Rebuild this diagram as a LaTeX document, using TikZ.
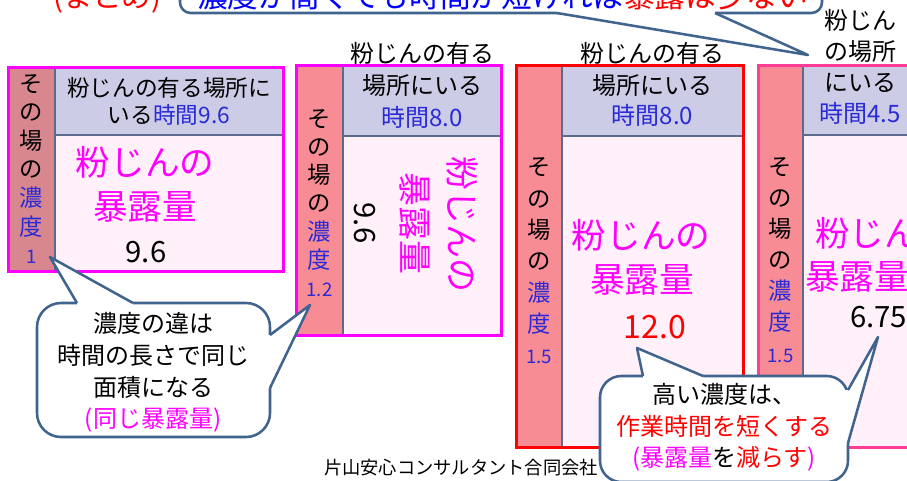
\documentclass[tikz,border=0pt]{standalone}
\usepackage{fontspec}
\setmainfont{Noto Sans CJK JP}
\usetikzlibrary{positioning}

\definecolor{mag}{HTML}{FF00FF}
\definecolor{hotpink}{HTML}{FF3C96}
\definecolor{headc}{HTML}{CCCCE6}
\definecolor{bodyc}{HTML}{FFF0FA}
\definecolor{colA}{HTML}{D8878F}
\definecolor{colB}{HTML}{F78C95}
\definecolor{rulec}{HTML}{5B6B8C}
\definecolor{calloutc}{HTML}{41648F}
\definecolor{dblue}{HTML}{2A2AD6}
\definecolor{tblue}{HTML}{0000FF}

\begin{document}
\begin{tikzpicture}[x=0.75pt, y=-0.75pt, inner sep=0pt,
    sepline/.style={rulec, line width=1.5pt},
    frame/.style={line width=2.25pt},
    balloon/.style={calloutc, line width=1.9pt, line join=round},
    coltext/.style={align=center, font=\fontsize{17.5}{21.4}\selectfont},
    headtext/.style={align=center, font=\fontsize{17.5}{20}\selectfont},
    bigtext/.style={mag, font=\fontsize{26}{30}\selectfont},
    numtext/.style={font=\fontsize{22}{26}\selectfont},
    notetext/.style={align=center, font=\fontsize{18}{23.7}\selectfont}]

    \useasboundingbox (0,0) rectangle (907,480);
    \clip (0,0) rectangle (907,480);

    % box 1 : concentration 1
    \fill[colA] (8,67) rectangle (55,271);
    \fill[headc] (55,67) rectangle (283,135);
    \fill[bodyc] (55,135) rectangle (283,271);
    \draw[sepline] (55,67) -- (55,271) (55,135) -- (283,135);
    \draw[frame, mag] (8,67) rectangle (283,271);

    \node[coltext] (col1) at (31.5,169) {そ\\の\\場\\の\\\textcolor{dblue}{濃}\\\textcolor{dblue}{度}\\\textcolor{dblue}{\fontsize{14}{16}\selectfont 1}};
    \node[headtext, font=\fontsize{17}{20}\selectfont] (head1) at (169,101.5) {粉じんの有る場所に\\いる\textcolor{dblue}{時間9.6}};
    \node[bigtext] (dust1) at (145,162) {粉じんの};
    \node[bigtext] (dose1) at (145,207) {暴露量};
    \node[numtext] (val1) at (146,252) {9.6};

    % box 2 : concentration 1.2
    \fill[colB] (296,65) rectangle (343,335);
    \fill[headc] (343,65) rectangle (501,136);
    \fill[bodyc] (343,136) rectangle (501,335);
    \draw[sepline] (343,65) -- (343,335) (343,136) -- (501,136);
    \draw[frame, mag] (296,65) rectangle (501,335);

    \node[headtext, font=\fontsize{18}{24}\selectfont] (top2) at (422,53) {粉じんの有る};
    \node[coltext, font=\fontsize{17.5}{21.2}\selectfont] (col2) at (319.5,203) {そ\\の\\場\\の\\\textcolor{dblue}{濃}\\\textcolor{dblue}{度}\\\textcolor{dblue}{\fontsize{14}{16}\selectfont 1.2}};
    \node[headtext, font=\fontsize{18}{24.4}\selectfont] (head2) at (422,101.5) {場所にいる\\\textcolor{dblue}{時間8.0}};
    \node[bigtext, rotate=-90, font=\fontsize{25.5}{30}\selectfont] (dust2) at (462,224) {粉じんの};
    \node[bigtext, rotate=-90, font=\fontsize{25.5}{30}\selectfont] (dose2) at (415,223) {暴露量};
    \node[numtext, rotate=-90] (val2) at (365,223) {9.6};

    % box 3 : concentration 1.5, 8 hours
    \fill[colB] (516,65) rectangle (562,447);
    \fill[headc] (562,65) rectangle (743,136);
    \fill[bodyc] (562,136) rectangle (743,447);
    \draw[sepline] (562,65) -- (562,447) (562,136) -- (743,136);
    \draw[frame, red] (516,65) rectangle (743,447);

    \node[headtext, font=\fontsize{18}{24}\selectfont] (top3) at (652,53) {粉じんの有る};
    \node[coltext, font=\fontsize{17.5}{23.5}\selectfont] (col3) at (539,261) {そ\\の\\場\\の\\\textcolor{dblue}{濃}\\\textcolor{dblue}{度}\\\textcolor{dblue}{\fontsize{14}{16}\selectfont 1.5}};
    \node[headtext, font=\fontsize{18}{22.5}\selectfont] (head3) at (652.5,100) {場所にいる\\\textcolor{dblue}{時間8.0}};
    \node[bigtext] (dust3) at (641,235) {粉じんの};
    \node[bigtext] (dose3) at (642,280) {暴露量};
    \node[numtext, red, font=\fontsize{24}{28}\selectfont] (val3) at (655,327) {12.0};

    % box 4 : concentration 1.5, 4.5 hours
    \fill[colB] (758,65) rectangle (803,447);
    \fill[headc] (803,65) rectangle (917,135);
    \fill[bodyc] (803,135) rectangle (917,447);
    \draw[sepline] (803,65) -- (803,447) (803,135) -- (917,135);
    \draw[frame, hotpink] (758,65) rectangle (917,447);

    \node[headtext, font=\fontsize{18}{23.25}\selectfont] (head4) at (860,66.5) {粉じん\\の場所\\にいる\\\textcolor{dblue}{時間4.5}};
    \node[coltext, font=\fontsize{17.5}{23.3}\selectfont] (col4) at (780.5,260) {そ\\の\\場\\の\\\textcolor{dblue}{濃}\\\textcolor{dblue}{度}\\\textcolor{dblue}{\fontsize{14}{16}\selectfont 1.5}};
    \node[bigtext, anchor=west] (dust4) at (815,233) {粉じんの};
    \node[bigtext, anchor=west] (dose4) at (805,277) {暴露量};
    \node[numtext, anchor=west] (val4) at (850,317) {6.75};

    % top banner (cut off)
    \node[anchor=base west, red, font=\fontsize{22}{26}\selectfont] (tag) at (53,7) {(まとめ)};
    \draw[balloon, fill=white, rounded corners=8pt] (180,-60) rectangle (822,13);
    \fill[white] (557,10) -- (557,13) -- (808,55) -- (715,13) -- (715,10) -- cycle;
    \draw[balloon] (557,13) -- (808,55) -- (715,13);
    \node[anchor=base west, font=\fontsize{23}{26}\selectfont] (headline) at (197,7) {\textcolor{tblue}{濃度が高くても時間が短ければ}\textcolor{red}{暴露は少ない}};

    % left note
    \draw[balloon, fill=white, rounded corners=18pt] (37,303) rectangle (270,437);
    \fill[white] (77,306) -- (77,303) -- (50,257) -- (133,303) -- (133,306) -- cycle;
    \draw[balloon] (77,303) -- (50,257) -- (133,303);
    \fill[white] (267,335) -- (270,335) -- (310,305) -- (270,388) -- (267,388) -- cycle;
    \draw[balloon] (270,335) -- (310,305) -- (270,388);
    \node[notetext] (note1) at (153,372.5) {濃度の違は\\時間の長さで同じ\\面積になる\\\textcolor{mag}{(同じ暴露量)}};

    % right note
    \draw[balloon, fill=white, rounded corners=16pt] (600,376) rectangle (848,482);
    \fill[white] (643,379) -- (643,376) -- (637,348) -- (703,376) -- (703,379) -- cycle;
    \draw[balloon] (643,376) -- (637,348) -- (703,376);
    \fill[white] (845,390) -- (848,390) -- (878,337) -- (848,443) -- (845,443) -- cycle;
    \draw[balloon] (848,390) -- (878,337) -- (848,443);
    \node[notetext, font=\fontsize{18}{23.6}\selectfont] (note2) at (724,427.5) {高い濃度は、\\\textcolor{red}{作業時間を短くする}\\\textcolor{mag}{(暴露量}を\textcolor{red}{減らす}\textcolor{mag}{)}};

    % footer
    \node[font=\fontsize{13.7}{16}\selectfont] (firm) at (461,468) {片山安心コンサルタント合同会社};
\end{tikzpicture}
\end{document}
